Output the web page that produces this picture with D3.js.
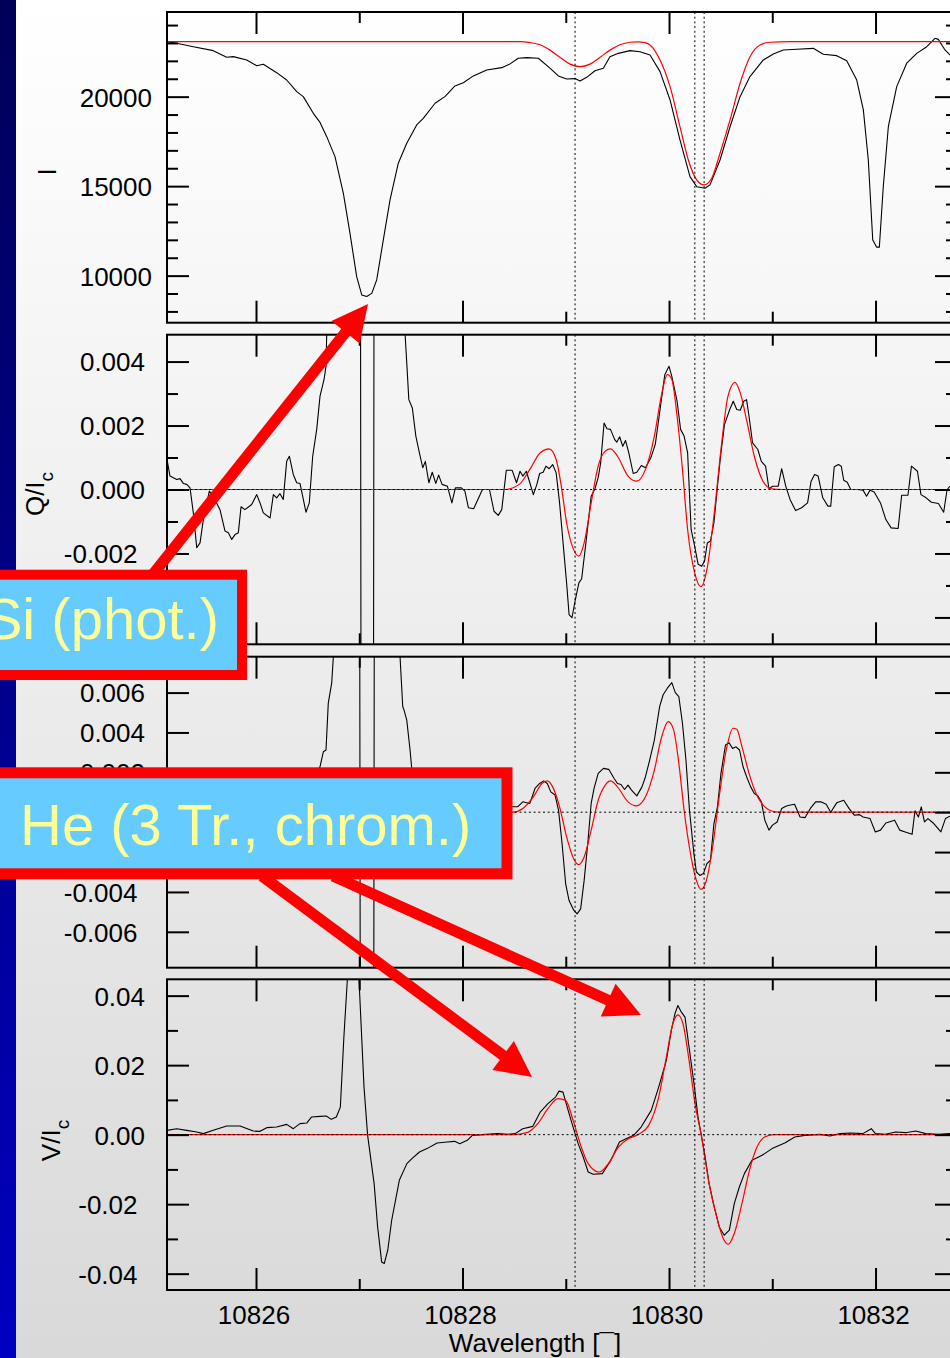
<!DOCTYPE html>
<html><head><meta charset="utf-8">
<script src="https://cdn.jsdelivr.net/npm/d3@7"></script>
<style>html,body{margin:0;padding:0;overflow:hidden;background:#fff}</style>
</head><body>
<script>
// ---------------- DATA ----------------
const wlMajorTicks = [10826, 10828, 10830, 10832];
const wlMinorTicks = [10827, 10829, 10831];
const heLines = [10829.09, 10830.25, 10830.34];

const iMajorTicks = [10000, 15000, 20000];
const iMinorTicks = [8000, 9000, 11000, 12000, 13000, 14000, 16000, 17000, 18000, 19000, 21000, 22000, 23000, 24000];
const qMajorTicks = [-0.004, -0.002, 0, 0.002, 0.004];
const qMinorTicks = [-0.003, -0.001, 0.001, 0.003];
const uMajorTicks = [-0.006, -0.004, -0.002, 0, 0.002, 0.004, 0.006];
const uMinorTicks = [];
const vMajorTicks = [-0.04, -0.02, 0, 0.02, 0.04];
const vMinorTicks = [-0.03, -0.01, 0.01, 0.03];

// Stokes I observed
const iObs = [[10825.138,23070],[10825.232,22983],[10825.393,22793],[10825.586,22570],[10825.716,22200],[10825.780,22235],[10825.910,22050],[10826.007,21730],[10826.071,21810],[10826.200,21340],[10826.297,20930],[10826.394,20280],[10826.458,20000],[10826.555,19070],[10826.620,18560],[10826.685,17765],[10826.765,16650],[10826.846,14600],[10826.910,12370],[10826.975,9944],[10827.024,8922],[10827.072,8830],[10827.121,9010],[10827.169,9760],[10827.233,12000],[10827.298,14230],[10827.378,16280],[10827.460,17400],[10827.556,18420],[10827.620,18790],[10827.734,19630],[10827.830,20000],[10827.927,20600],[10828.008,20780],[10828.105,21160],[10828.234,21490],[10828.380,21620],[10828.460,21830],[10828.540,22145],[10828.622,22180],[10828.734,22145],[10828.847,21590],[10828.928,21160],[10829.009,20990],[10829.090,21010],[10829.138,20880],[10829.203,21080],[10829.283,21450],[10829.364,21590],[10829.428,22235],[10829.509,22420],[10829.622,22570],[10829.719,22510],[10829.816,22330],[10829.913,21400],[10830.010,19815],[10830.106,17580],[10830.203,15530],[10830.268,14970],[10830.349,14880],[10830.397,15070],[10830.494,16460],[10830.591,18320],[10830.688,20000],[10830.784,21120],[10830.913,22050],[10831.010,22385],[10831.107,22610],[10831.237,22650],[10831.397,22700],[10831.494,22370],[10831.624,22290],[10831.721,22010],[10831.818,20930],[10831.882,19260],[10831.930,16460],[10831.973,11990],[10832.011,11590],[10832.037,11590],[10832.075,14970],[10832.124,18320],[10832.205,20560],[10832.302,21870],[10832.399,22420],[10832.496,22790],[10832.576,23260],[10832.608,23200],[10832.673,22610],[10832.721,22330],[10832.79,22100]];
// Stokes I fit
const iFit = [[10825.138,23070],[10828.557,23070],[10828.654,23020],[10828.750,22900],[10828.847,22600],[10828.944,22200],[10829.041,21820],[10829.138,21680],[10829.235,21820],[10829.332,22200],[10829.428,22600],[10829.525,22900],[10829.622,23040],[10829.700,23066],[10829.767,23020],[10829.816,22888],[10829.913,22050],[10830.010,20559],[10830.106,18324],[10830.187,16463],[10830.268,15346],[10830.339,15067],[10830.413,15441],[10830.494,16838],[10830.591,18698],[10830.688,20749],[10830.784,22235],[10830.881,22888],[10830.978,23039],[10831.172,23070],[10832.79,23070]];

// Stokes Q/Ic observed
const qObs = [[10825.138,0.00094],[10825.167,0.00042],[10825.232,0.00031],[10825.264,0.00034],[10825.296,0.00019],[10825.329,0.00016],[10825.361,0.00005],[10825.393,-0.00073],[10825.426,-0.00182],[10825.458,-0.00167],[10825.490,-0.00094],[10825.548,-0.00005],[10825.586,-0.00021],[10825.651,-0.00063],[10825.700,-0.0013],[10825.732,-0.00135],[10825.765,-0.00156],[10825.797,-0.00141],[10825.829,-0.00135],[10825.855,-0.00054],[10825.893,-0.00063],[10825.958,-0.00047],[10826.007,-0.00016],[10826.039,-0.00042],[10826.071,-0.00073],[10826.136,-0.00089],[10826.168,-0.00016],[10826.200,-0.00026],[10826.232,-0.00013],[10826.264,-0.00031],[10826.297,0.00088],[10826.323,0.00104],[10826.361,0.00047],[10826.394,0.00021],[10826.426,0.00019],[10826.484,-0.00071],[10826.516,-0.00042],[10826.549,0.00104],[10826.588,0.00188],[10826.620,0.00292],[10826.659,0.00344],[10826.678,0.00385],[10826.685,0.0049],[10826.717,0.0065],[10826.862,0.012],[10827.007,0.02],[10827.022,-0.02],[10827.133,-0.02],[10827.148,0.02],[10827.298,0.012],[10827.424,0.006],[10827.443,0.0049],[10827.460,0.00396],[10827.480,0.00281],[10827.514,0.00255],[10827.548,0.00167],[10827.582,0.00115],[10827.615,0.00068],[10827.640,0.00088],[10827.674,0.00021],[10827.707,0.00054],[10827.741,0.00019],[10827.769,0.00045],[10827.802,0.00016],[10827.854,0.0001],[10827.897,-0.00042],[10827.931,0.00005],[10827.989,0.00005],[10828.023,-0.00005],[10828.057,-0.00057],[10828.108,-0.0006],[10828.193,0],[10828.261,0],[10828.305,-0.00068],[10828.346,-0.00081],[10828.380,-0.00063],[10828.424,0.0006],[10828.481,0.0006],[10828.523,0.00021],[10828.557,0.00057],[10828.584,0.00042],[10828.618,0.00057],[10828.652,0.00021],[10828.686,-0.00016],[10828.720,0.00016],[10828.747,0.0005],[10828.781,0.00054],[10828.808,0.00073],[10828.839,0.00065],[10828.873,0.00078],[10828.907,0.00052],[10828.940,-0.00042],[10828.974,-0.00167],[10829.008,-0.00292],[10829.032,-0.00391],[10829.060,-0.00401],[10829.093,-0.00344],[10829.127,-0.00292],[10829.154,-0.00279],[10829.195,-0.00167],[10829.246,-0.00021],[10829.280,0],[10829.314,0.00037],[10829.338,0.00083],[10829.371,0.00208],[10829.399,0.0019],[10829.433,0.00188],[10829.474,0.00156],[10829.494,0.00148],[10829.522,0.00165],[10829.552,0.00135],[10829.579,0.00153],[10829.610,0.00115],[10829.653,0.0005],[10829.688,0.00054],[10829.732,0.00075],[10829.772,0.00068],[10829.824,0.00099],[10829.867,0.00141],[10829.909,0.0024],[10829.959,0.00359],[10830.000,0.00385],[10830.027,0.00354],[10830.078,0.00276],[10830.112,0.00188],[10830.146,0.00167],[10830.180,0.00115],[10830.214,-0.00125],[10830.248,-0.00177],[10830.282,-0.00234],[10830.316,-0.0024],[10830.344,-0.00224],[10830.371,-0.00167],[10830.401,-0.00161],[10830.435,-0.00104],[10830.469,0.0001],[10830.503,0.00115],[10830.537,0.00203],[10830.588,0.0025],[10830.622,0.00276],[10830.656,0.0025],[10830.690,0.00248],[10830.723,0.00276],[10830.751,0.00281],[10830.775,0.00229],[10830.809,0.00146],[10830.860,0.00125],[10830.894,0.00088],[10830.935,0.00073],[10830.968,0.00002],[10831.002,0.0001],[10831.057,0.0001],[10831.091,0.00065],[10831.131,0.0001],[10831.172,-0.00031],[10831.226,-0.00066],[10831.284,-0.00057],[10831.342,-0.00042],[10831.376,0.00026],[10831.410,0.00047],[10831.444,0.00042],[10831.489,-0.00026],[10831.539,-0.00052],[10831.566,-0.00052],[10831.600,0.00071],[10831.641,0.00078],[10831.668,0.00073],[10831.692,0.00029],[10831.726,0.00023],[10831.760,0],[10831.828,0],[10831.879,-0.00002],[10831.913,-0.00021],[10831.947,-0.00002],[10831.987,-0.00008],[10832.048,-0.00042],[10832.100,-0.00094],[10832.151,-0.0012],[10832.219,-0.00122],[10832.253,-0.00018],[10832.314,-0.00018],[10832.348,0.00073],[10832.406,0.00057],[10832.440,-0.00016],[10832.490,-0.00026],[10832.541,-0.0004],[10832.609,-0.00044],[10832.660,-0.00071],[10832.693,0],[10832.721,0.0001],[10832.79,0.0001]];
// Stokes Q/Ic fit
const qFit = [[10825.138,0],[10828.414,0],[10828.550,0.00016],[10828.652,0.00063],[10828.753,0.00115],[10828.839,0.00127],[10828.907,0.00094],[10828.957,0.0001],[10829.008,-0.00104],[10829.076,-0.00188],[10829.127,-0.00208],[10829.178,-0.00167],[10829.246,-0.00042],[10829.314,0.00073],[10829.382,0.0012],[10829.433,0.00127],[10829.501,0.00104],[10829.603,0.00042],[10829.688,0.00026],[10829.772,0.00063],[10829.858,0.00167],[10829.925,0.00292],[10829.984,0.00359],[10830.027,0.00344],[10830.078,0.00229],[10830.130,0.00063],[10830.180,-0.00125],[10830.248,-0.0026],[10830.309,-0.00304],[10830.367,-0.0025],[10830.435,-0.00083],[10830.503,0.00125],[10830.571,0.00292],[10830.639,0.00335],[10830.690,0.00302],[10830.757,0.00208],[10830.826,0.00104],[10830.910,0.00026],[10830.995,0.00002],[10831.097,0],[10832.79,0]];

// Stokes U/Ic observed
const uObs = [[10825.138,0.0003],[10825.300,-0.0002],[10825.500,0.0004],[10825.700,-0.0003],[10825.900,0.0002],[10826.100,0.0006],[10826.300,0.0001],[10826.500,0.0009],[10826.620,0.00228],[10826.652,0.00303],[10826.678,0.00312],[10826.700,0.00547],[10826.733,0.00647],[10826.749,0.0078],[10826.760,0.009],[10826.862,0.015],[10827.002,0.02],[10827.012,-0.02],[10827.138,-0.02],[10827.148,0.02],[10827.298,0.015],[10827.375,0.009],[10827.395,0.0078],[10827.421,0.0053],[10827.433,0.00513],[10827.460,0.00462],[10827.492,0.00312],[10827.508,0.0022],[10827.550,0.0016],[10827.637,0.0009],[10827.782,0.0005],[10827.927,0.0002],[10828.073,-0.0003],[10828.218,0.0001],[10828.363,0.0002],[10828.481,0.00027],[10828.533,0.00027],[10828.584,0.00052],[10828.652,0.00044],[10828.702,0.00119],[10828.747,0.00144],[10828.787,0.00157],[10828.821,0.00144],[10828.855,0.00102],[10828.896,0.00086],[10828.930,0.0001],[10828.964,-0.00157],[10828.999,-0.00359],[10829.032,-0.00443],[10829.076,-0.0049],[10829.110,-0.0051],[10829.144,-0.00485],[10829.178,-0.00342],[10829.213,-0.00157],[10829.246,0.00044],[10829.274,0.00119],[10829.314,0.00195],[10829.365,0.0022],[10829.416,0.00215],[10829.467,0.0017],[10829.501,0.00144],[10829.535,0.00139],[10829.569,0.00114],[10829.603,0.00136],[10829.637,0.00111],[10829.688,0.00082],[10829.738,0.00127],[10829.772,0.00178],[10829.813,0.00262],[10829.858,0.00362],[10829.909,0.0053],[10829.943,0.00589],[10829.984,0.00622],[10830.027,0.0065],[10830.061,0.006],[10830.095,0.0058],[10830.130,0.00446],[10830.164,0.00262],[10830.198,0.0001],[10830.241,-0.00208],[10830.265,-0.003],[10830.299,-0.00317],[10830.333,-0.00308],[10830.367,-0.00258],[10830.401,-0.00241],[10830.435,-0.00057],[10830.469,0.00027],[10830.503,0.00195],[10830.547,0.00337],[10830.581,0.00348],[10830.615,0.0032],[10830.649,0.00328],[10830.683,0.00312],[10830.717,0.00228],[10830.757,0.0017],[10830.791,0.00127],[10830.826,0.00094],[10830.860,0.00082],[10830.894,0.00052],[10830.928,-0.0004],[10830.968,-0.0009],[10831.002,-0.00065],[10831.047,-0.00049],[10831.091,0.00019],[10831.131,0.0003],[10831.165,0.00035],[10831.216,0.0004],[10831.269,-0.00024],[10831.318,-0.00027],[10831.369,0.00019],[10831.420,0.00052],[10831.471,0.00052],[10831.522,0.0004],[10831.566,0],[10831.624,0.00047],[10831.692,0.0006],[10831.743,0.00019],[10831.794,-0.00015],[10831.845,-0.00012],[10831.879,-0.00024],[10831.947,-0.00032],[10831.998,-0.00099],[10832.048,-0.0009],[10832.100,-0.00054],[10832.185,-0.0004],[10832.235,-0.0009],[10832.287,-0.00099],[10832.354,-0.00111],[10832.382,0.00007],[10832.415,-0.00024],[10832.443,0.00027],[10832.474,-0.00049],[10832.508,-0.00032],[10832.558,-0.00054],[10832.633,-0.00099],[10832.677,-0.00032],[10832.721,-0.0002],[10832.79,-0.0002]];
// Stokes U/Ic fit
const uFit = [[10825.138,0],[10828.481,0],[10828.584,0.00019],[10828.686,0.00077],[10828.770,0.00144],[10828.821,0.00157],[10828.873,0.00127],[10828.940,0.00027],[10829.008,-0.00124],[10829.076,-0.00233],[10829.127,-0.00263],[10829.178,-0.00225],[10829.246,-0.0009],[10829.314,0.0006],[10829.382,0.00136],[10829.433,0.00157],[10829.501,0.00127],[10829.603,0.00052],[10829.688,0.00032],[10829.772,0.00077],[10829.858,0.00211],[10829.925,0.00371],[10829.993,0.00454],[10830.045,0.00412],[10830.095,0.00245],[10830.146,0.0001],[10830.214,-0.00225],[10830.265,-0.00342],[10830.309,-0.00387],[10830.357,-0.0035],[10830.418,-0.00191],[10830.486,0.00077],[10830.554,0.00312],[10830.622,0.00421],[10830.656,0.00416],[10830.707,0.00328],[10830.775,0.00195],[10830.843,0.00094],[10830.928,0.00027],[10831.030,0.00002],[10831.097,0],[10832.79,0]];

// Stokes V/Ic observed
const vObs = [[10825.138,0.00124],[10825.232,0.00172],[10825.329,0.00124],[10825.426,0.00075],[10825.490,0.00029],[10825.586,0.00124],[10825.716,0.00247],[10825.845,0.00247],[10825.974,0.00103],[10826.039,0.00095],[10826.104,0.00201],[10826.200,0.00218],[10826.297,0.00296],[10826.361,0.00172],[10826.426,0.00316],[10826.491,0.00333],[10826.537,0.00506],[10826.620,0.00526],[10826.680,0.00535],[10826.729,0.0044],[10826.778,0.00506],[10826.817,0.00793],[10826.851,0.02805],[10826.885,0.0448],[10826.910,0.06],[10826.939,0.07],[10826.978,0.055],[10826.998,0.0443],[10827.046,0.01368],[10827.081,-0.0002],[10827.144,-0.01408],[10827.178,-0.02656],[10827.217,-0.03662],[10827.242,-0.03708],[10827.276,-0.03325],[10827.314,-0.02463],[10827.388,-0.01313],[10827.461,-0.00834],[10827.510,-0.0069],[10827.583,-0.005],[10827.656,-0.00402],[10827.754,-0.00241],[10827.852,-0.00213],[10827.924,-0.00193],[10827.973,-0.00259],[10828.046,-0.00164],[10828.095,-0.0002],[10828.193,0],[10828.339,0.00029],[10828.437,0.00009],[10828.510,0.00029],[10828.583,0.00172],[10828.681,0.00239],[10828.753,0.0065],[10828.827,0.00891],[10828.901,0.01081],[10828.935,0.01253],[10828.973,0.01224],[10829.023,0.00698],[10829.071,0.00218],[10829.120,-0.00259],[10829.169,-0.00644],[10829.217,-0.01075],[10829.266,-0.01141],[10829.354,-0.01121],[10829.437,-0.00739],[10829.520,-0.00213],[10829.584,-0.00115],[10829.657,-0.0002],[10829.730,0.00218],[10829.828,0.00698],[10829.900,0.01368],[10829.974,0.02135],[10830.022,0.02997],[10830.057,0.03478],[10830.086,0.03716],[10830.120,0.03524],[10830.155,0.0338],[10830.194,0.02518],[10830.242,0.01466],[10830.281,0.00506],[10830.316,-0.00069],[10830.350,-0.00644],[10830.388,-0.01408],[10830.438,-0.02081],[10830.486,-0.02656],[10830.535,-0.02894],[10830.584,-0.0275],[10830.632,-0.01983],[10830.681,-0.01506],[10830.730,-0.01121],[10830.803,-0.00739],[10830.901,-0.00595],[10830.998,-0.00402],[10831.121,-0.00241],[10831.218,-0.00069],[10831.315,-0.0002],[10831.462,0.00009],[10831.559,-0.0004],[10831.657,0.00029],[10831.755,0.00046],[10831.877,0.00029],[10831.959,0.00172],[10831.999,0.00029],[10832.096,0.00009],[10832.194,0.00075],[10832.291,0.00057],[10832.389,0.00103],[10832.486,0.00029],[10832.608,0.00009],[10832.721,0.00029],[10832.79,0.00029]];
// Stokes V/Ic fit
const vFit = [[10825.138,0],[10828.485,0],[10828.632,0.00066],[10828.729,0.00316],[10828.827,0.00747],[10828.925,0.01035],[10828.998,0.00986],[10829.071,0.00411],[10829.145,-0.00308],[10829.217,-0.00833],[10829.325,-0.01075],[10829.413,-0.00833],[10829.510,-0.00356],[10829.608,-0.00115],[10829.706,0.00009],[10829.803,0.00267],[10829.900,0.01081],[10829.974,0.0223],[10830.037,0.0319],[10830.086,0.03449],[10830.135,0.0319],[10830.194,0.02135],[10830.252,0.00891],[10830.316,-0.00069],[10830.388,-0.01408],[10830.462,-0.02368],[10830.525,-0.02989],[10830.574,-0.03153],[10830.632,-0.02845],[10830.706,-0.01983],[10830.779,-0.01026],[10830.852,-0.00356],[10830.925,-0.00069],[10831.023,0],[10832.79,0]];

const xLabel = "Wavelength [\u00AF]";
const callouts = ["Si (phot.)", "He (3 Tr., chrom.)"];

// ---------------- LAYOUT ----------------
const W = 950, H = 1358;
const FONT = "'Liberation Sans', Arial, Helvetica, sans-serif";
const X0 = 167, X1 = 957;
const x = d3.scaleLinear().domain([10825.138, 10832.789]).range([X0, X1]);

const fmt3 = d => (d < 0 ? "-" : "") + Math.abs(d).toFixed(3);
const fmt2 = d => (d < 0 ? "-" : "") + Math.abs(d).toFixed(2);

const panels = [
  {obs: iObs, fit: iFit, domain: [7370, 24730], top: 12, bottom: 322.7, major: iMajorTicks, minor: iMinorTicks,
   fmt: d => String(d), posOff: 15, negOff: 15, title: "I", sub: "", tx: 56, ty: 172, zero: false},
  {obs: qObs, fit: qFit, domain: [-0.00484, 0.00484], top: 334.7, bottom: 644.3, major: qMajorTicks, minor: qMinorTicks,
   fmt: fmt3, posOff: 22, negOff: 29.5, title: "Q/I", sub: "c", tx: 43.5, ty: 494, zero: true},
  {obs: uObs, fit: uFit, domain: [-0.0078, 0.0078], top: 656.7, bottom: 967.7, major: uMajorTicks, minor: uMinorTicks,
   fmt: fmt3, posOff: 22, negOff: 29.5, title: "U/I", sub: "c", tx: 43.5, ty: 817, zero: true},
  {obs: vObs, fit: vFit, domain: [-0.0447, 0.0447], top: 979.3, bottom: 1290, major: vMajorTicks, minor: vMinorTicks,
   fmt: fmt2, posOff: 22, negOff: 29.5, title: "V/I", sub: "c", tx: 60, ty: 1140.5, zero: true}
];

const svg = d3.select("body").append("svg").attr("width", W).attr("height", H)
  .style("display", "block");
const defs = svg.append("defs");

const bgGrad = defs.append("linearGradient").attr("id", "bg").attr("x1", 0).attr("y1", 0).attr("x2", 0).attr("y2", 1);
bgGrad.append("stop").attr("offset", "0%").attr("stop-color", "#ffffff");
bgGrad.append("stop").attr("offset", "100%").attr("stop-color", "#d9d9d9");
const barGrad = defs.append("linearGradient").attr("id", "bar").attr("x1", 0).attr("y1", 0).attr("x2", 0).attr("y2", 1);
barGrad.append("stop").attr("offset", "0%").attr("stop-color", "#000058");
barGrad.append("stop").attr("offset", "100%").attr("stop-color", "#0000c0");

svg.append("rect").attr("width", W).attr("height", H).attr("fill", "url(#bg)");
svg.append("rect").attr("x", 0).attr("y", 0).attr("width", 16).attr("height", H).attr("fill", "url(#bar)");

const TICK = 22, MTICK = 11;

panels.forEach((p, i) => {
  const y = d3.scaleLinear().domain(p.domain).range([p.bottom, p.top]);
  const g = svg.append("g");
  const clipId = "clip" + i;
  defs.append("clipPath").attr("id", clipId).append("rect")
    .attr("x", X0).attr("y", p.top).attr("width", X1 - X0).attr("height", p.bottom - p.top);

  const plot = g.append("g").attr("clip-path", `url(#${clipId})`);
  const lineObs = d3.line().x(d => x(d[0])).y(d => y(d[1])).curve(d3.curveLinear);
  const lineFit = d3.line().x(d => x(d[0])).y(d => y(d[1])).curve(d3.curveMonotoneX);

  plot.append("path").datum(p.obs).attr("d", lineObs).attr("fill", "none")
    .attr("stroke", "#000").attr("stroke-width", 1.1).attr("stroke-linejoin", "round");
  plot.append("path").datum(p.fit).attr("d", lineFit).attr("fill", "none")
    .attr("stroke", "#ff0000").attr("stroke-width", 1.2);

  // dotted reference lines
  plot.selectAll(".vl").data(heLines).enter().append("line")
    .attr("x1", d => x(d)).attr("x2", d => x(d)).attr("y1", p.top).attr("y2", p.bottom)
    .attr("stroke", "#000").attr("stroke-width", 1).attr("stroke-dasharray", "2,2.7");
  if (p.zero) {
    plot.append("line").attr("x1", X0).attr("x2", X1).attr("y1", y(0)).attr("y2", y(0))
      .attr("stroke", "#000").attr("stroke-width", 1).attr("stroke-dasharray", "2,2.7");
  }

  const styleAxis = sel => {
    sel.select(".domain").remove();
    sel.selectAll("line").attr("stroke", "#000").attr("stroke-width", 2);
    sel.selectAll("text").attr("font-family", FONT).attr("font-size", 26).attr("fill", "#000");
  };

  // left axis
  g.append("g").attr("transform", `translate(${X0},0)`)
    .call(d3.axisLeft(y).tickValues(p.major).tickSize(-TICK).tickPadding(TICK).tickFormat(p.fmt))
    .call(styleAxis)
    .call(s => s.selectAll("text").attr("x", d => d < 0 ? -p.negOff : -p.posOff).attr("dy", "0.36em"));
  g.append("g").attr("transform", `translate(${X0},0)`)
    .call(d3.axisLeft(y).tickValues(p.minor).tickSize(-MTICK).tickFormat(""))
    .call(styleAxis);
  // right axis
  g.append("g").attr("transform", `translate(${X1},0)`)
    .call(d3.axisRight(y).tickValues(p.major).tickSize(-TICK).tickFormat(""))
    .call(styleAxis);
  g.append("g").attr("transform", `translate(${X1},0)`)
    .call(d3.axisRight(y).tickValues(p.minor).tickSize(-MTICK).tickFormat(""))
    .call(styleAxis);
  // top axis
  g.append("g").attr("transform", `translate(0,${p.top})`)
    .call(d3.axisTop(x).tickValues(wlMajorTicks).tickSize(-TICK).tickFormat(""))
    .call(styleAxis);
  g.append("g").attr("transform", `translate(0,${p.top})`)
    .call(d3.axisTop(x).tickValues(wlMinorTicks).tickSize(-MTICK).tickFormat(""))
    .call(styleAxis);
  // bottom axis
  const last = i === panels.length - 1;
  g.append("g").attr("transform", `translate(0,${p.bottom})`)
    .call(d3.axisBottom(x).tickValues(wlMajorTicks).tickSize(-TICK).tickPadding(16)
      .tickFormat(last ? (d => String(d)) : ""))
    .call(styleAxis)
    .call(s => s.selectAll("text").attr("dx", -2.5));
  g.append("g").attr("transform", `translate(0,${p.bottom})`)
    .call(d3.axisBottom(x).tickValues(wlMinorTicks).tickSize(-MTICK).tickFormat(""))
    .call(styleAxis);

  // frame
  g.append("rect").attr("x", X0).attr("y", p.top).attr("width", X1 - X0).attr("height", p.bottom - p.top)
    .attr("fill", "none").attr("stroke", "#000").attr("stroke-width", 2);

  // y title
  const t = g.append("text").attr("transform", `translate(${p.tx},${p.ty}) rotate(-90)`)
    .attr("text-anchor", "middle").attr("font-family", FONT).attr("font-size", 26).attr("fill", "#000");
  t.append("tspan").text(p.title);
  if (p.sub) t.append("tspan").attr("font-size", 19).attr("dy", 9).text(p.sub);
});

// x title
svg.append("text").attr("x", 535).attr("y", 1351.5).attr("text-anchor", "middle")
  .attr("font-family", FONT).attr("font-size", 26).attr("fill", "#000").text(xLabel);

// ---------------- ANNOTATIONS ----------------
const RED = "#ff0000";
function arrow(x1, y1, x2, y2) {
  const dx = x2 - x1, dy = y2 - y1, L = Math.hypot(dx, dy);
  const ux = dx / L, uy = dy / L, px = -uy, py = ux;
  const hl = 36, hw = 18;
  const bx = x2 - ux * hl, by = y2 - uy * hl;
  svg.append("line").attr("x1", x1).attr("y1", y1).attr("x2", bx + ux * 2).attr("y2", by + uy * 2)
    .attr("stroke", RED).attr("stroke-width", 11);
  svg.append("path").attr("d", `M${x2},${y2}L${bx + px * hw},${by + py * hw}L${bx - px * hw},${by - py * hw}Z`)
    .attr("fill", RED);
}
arrow(150, 578, 368, 304);
arrow(262, 876, 532, 1077);
arrow(333, 876, 641, 1015);

svg.append("rect").attr("x", -20).attr("y", 574.7).attr("width", 262).attr("height", 100.3)
  .attr("fill", "#66ccff").attr("stroke", RED).attr("stroke-width", 10);
svg.append("text").attr("x", 219).attr("y", 639).attr("text-anchor", "end")
  .attr("font-family", FONT).attr("font-size", 58).attr("fill", "#ffff99").text(callouts[0]);

svg.append("rect").attr("x", -20).attr("y", 772.8).attr("width", 527).attr("height", 101)
  .attr("fill", "#66ccff").attr("stroke", RED).attr("stroke-width", 11);
svg.append("text").attr("x", 20).attr("y", 845).attr("text-anchor", "start")
  .attr("font-family", FONT).attr("font-size", 58).attr("fill", "#ffff99").text(callouts[1]);
</script>
</body></html>
